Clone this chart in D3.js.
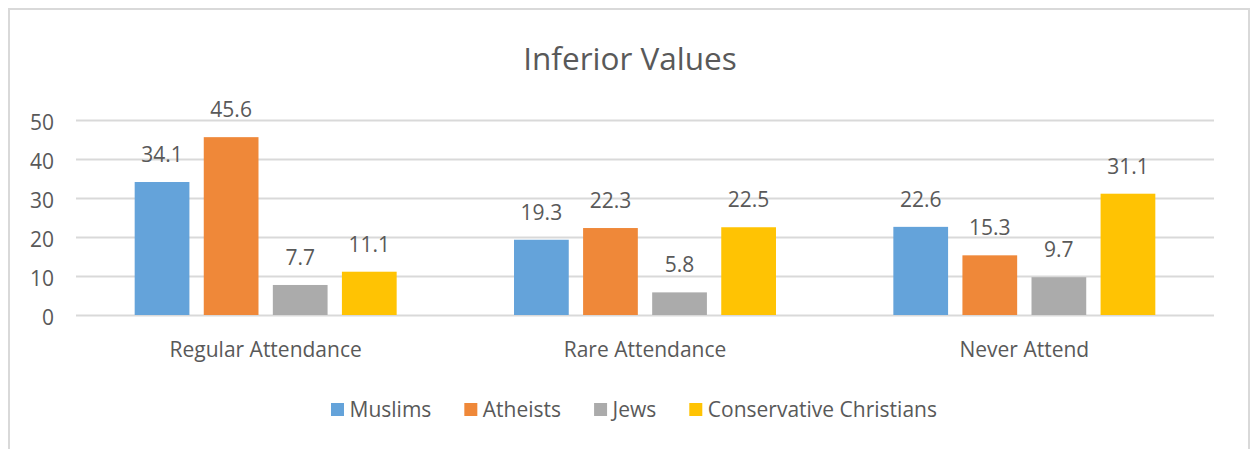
<!DOCTYPE html>
<html>
<head>
<meta charset="utf-8">
<script src="https://cdn.jsdelivr.net/npm/d3@7"></script>
<style>
  html, body { margin: 0; padding: 0; background: #fff; }
  svg text { font-family: "Open Sans", sans-serif; fill: #595959; }
</style>
</head>
<body>
<svg id="chart" width="1251" height="449"></svg>
<script>
const title = "Inferior Values";
const categories = ["Regular Attendance", "Rare Attendance", "Never Attend"];
const seriesNames = ["Muslims", "Atheists", "Jews", "Conservative Christians"];
const muslims = [34.1, 19.3, 22.6];
const atheists = [45.6, 22.3, 15.3];
const jews = [7.7, 5.8, 9.7];
const christians = [11.1, 22.5, 31.1];
const yTicks = [0, 10, 20, 30, 40, 50];
const colors = ["#64A3DA", "#EF8839", "#ABABAB", "#FFC303"];

const seriesValues = [muslims, atheists, jews, christians];

const svg = d3.select("#chart");

// outer chart border
svg.append("rect")
  .attr("x", 9).attr("y", 9)
  .attr("width", 1240).attr("height", 460)
  .attr("fill", "#fff")
  .attr("stroke", "#d9d9d9").attr("stroke-width", 2);

const plot = { left: 76, right: 1214, top: 120, bottom: 315 };

const y = d3.scaleLinear().domain([0, 50]).range([plot.bottom, plot.top]);
const x0 = d3.scaleBand().domain(categories).range([plot.left, plot.right]).padding(0);
const band = x0.bandwidth();
const barW = band / 6.93;
const step = barW * 1.262;
const groupW = step * 3 + barW;
const x1 = d3.scaleBand().domain(seriesNames)
  .range([0, groupW]).paddingInner((step - barW) / step).paddingOuter(0);

// gridlines
const yAxis = d3.axisLeft(y).tickValues(yTicks).tickSize(-(plot.right - plot.left)).tickFormat(d3.format("d"));
const gAxis = svg.append("g").attr("transform", `translate(${plot.left},0)`).call(yAxis);
gAxis.select(".domain").remove();
gAxis.selectAll(".tick line").attr("stroke", "#d9d9d9").attr("stroke-width", 2);
gAxis.selectAll(".tick text")
  .attr("x", -22).attr("dy", "0.45em")
  .style("font-size", "21px").attr("fill", "#595959");

// bars
const groups = svg.append("g").selectAll("g")
  .data(categories)
  .join("g")
  .attr("transform", d => `translate(${x0(d) + (band - groupW) / 2},0)`);

groups.selectAll("rect")
  .data((c, ci) => seriesNames.map((s, si) => ({ s, si, v: seriesValues[si][ci] })))
  .join("rect")
  .attr("x", d => x1(d.s))
  .attr("width", x1.bandwidth())
  .attr("y", d => y(d.v))
  .attr("height", d => y(0) - y(d.v))
  .attr("fill", d => colors[d.si]);

groups.selectAll("text.val")
  .data((c, ci) => seriesNames.map((s, si) => ({ s, si, v: seriesValues[si][ci] })))
  .join("text")
  .attr("class", "val")
  .attr("x", d => x1(d.s) + x1.bandwidth() / 2)
  .attr("y", d => y(d.v) - 20)
  .attr("text-anchor", "middle")
  .style("font-size", "21px")
  .text(d => d3.format(".1f")(d.v));

// x labels
const xAxis = d3.axisBottom(x0).tickSize(0);
const gx = svg.append("g").attr("transform", `translate(0,${plot.bottom})`).call(xAxis);
gx.select(".domain").remove();
gx.selectAll(".tick text").attr("y", 0).attr("dy", 0)
  .attr("transform", "translate(0,42)")
  .style("font-size", "21px").attr("fill", "#595959");

// title
svg.append("text")
  .attr("x", 630).attr("y", 69.5)
  .attr("text-anchor", "middle")
  .style("font-size", "31.5px")
  .text(title);

// legend
const legend = svg.append("g");
const items = [];
seriesNames.forEach((name, i) => {
  const g = legend.append("g");
  g.append("rect").attr("x", 0).attr("y", -6).attr("width", 13).attr("height", 13).attr("fill", colors[i]);
  const t = g.append("text").attr("x", 18.5).attr("y", 0).attr("dy", "0.36em")
    .style("font-size", "21px").text(name);
  items.push({ g, w: 18.5 + t.node().getComputedTextLength() });
});
const gap = 33;
let lx = 331;
items.forEach(it => {
  it.g.attr("transform", `translate(${lx},409)`);
  lx += it.w + gap;
});
</script>
</body>
</html>
